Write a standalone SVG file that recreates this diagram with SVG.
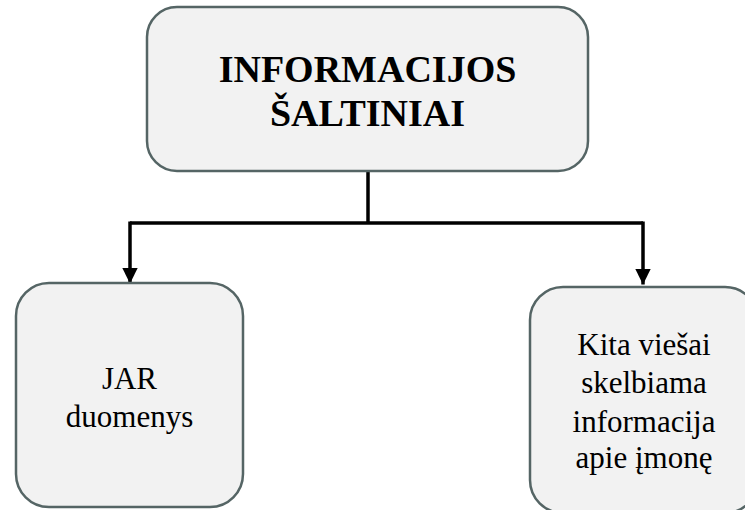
<svg xmlns="http://www.w3.org/2000/svg" width="745" height="510" viewBox="0 0 745 510">
<style>
.box{fill:#f2f2f2;stroke:#556565;stroke-width:2.5}
.conn{fill:none;stroke:#000;stroke-width:3.5}
text{font-family:'Liberation Serif','DejaVu Serif',serif;fill:#000;text-anchor:middle}
.title{font-size:38px;font-weight:bold}
.lbl{font-size:31px}
</style>
<defs>
<marker id="ah" viewBox="0 0 10 10" refX="10" refY="5" markerWidth="4.4" markerHeight="4.4" markerUnits="strokeWidth" orient="auto">
<path d="M0,0 L10,5 L0,10 Z" fill="#000"/>
</marker>
</defs>
<rect width="745" height="510" fill="#fff"/>
<g id="connectors">
<path class="conn" d="M368,172 V223"/>
<path class="conn" d="M130,223 H643"/>
<path class="conn" d="M130,221.5 V283.5" marker-end="url(#ah)"/>
<path class="conn" d="M643,221.5 V284.5" marker-end="url(#ah)"/>
</g>
<g id="node-top">
<rect class="box" x="147" y="7" width="441" height="164" rx="30"/>
<text class="title" x="367.5" y="82" font-family="Liberation Serif, serif">INFORMACIJOS</text>
<text class="title" x="367.5" y="126" font-family="Liberation Serif, serif">ŠALTINIAI</text>
</g>
<g id="node-jar">
<rect class="box" x="16" y="283" width="227" height="224" rx="33"/>
<text class="lbl" x="129.5" y="389">JAR</text>
<text class="lbl" x="129.5" y="427">duomenys</text>
</g>
<g id="node-kita">
<rect class="box" x="530" y="287" width="228" height="226" rx="33"/>
<text class="lbl" x="644" y="355">Kita viešai</text>
<text class="lbl" x="644" y="393">skelbiama</text>
<text class="lbl" x="644" y="432">informacija</text>
<text class="lbl" x="644" y="468">apie įmonę</text>
</g>
</svg>
